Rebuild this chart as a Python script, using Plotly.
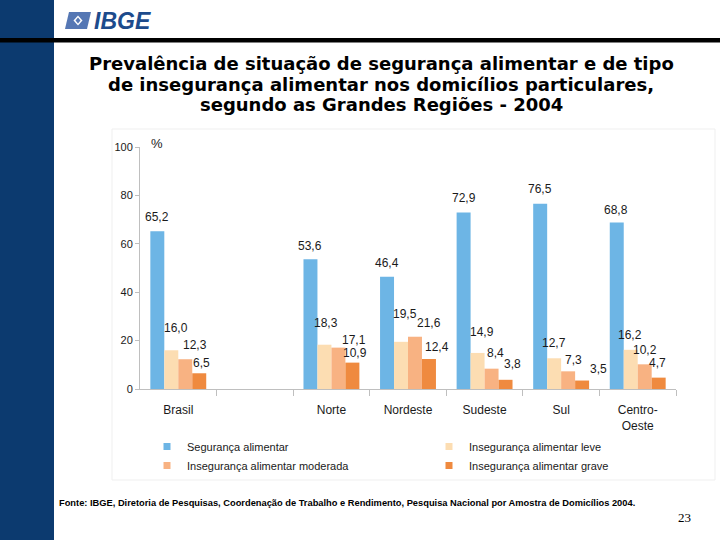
import plotly.graph_objects as go

# ---------------- data ----------------
categories = ["Brasil", "", "Norte", "Nordeste", "Sudeste", "Sul", "Centro-<br>Oeste"]
seguranca = [65.2, None, 53.6, 46.4, 72.9, 76.5, 68.8]
inseg_leve = [16.0, None, 18.3, 19.5, 14.9, 12.7, 16.2]
inseg_moderada = [12.3, None, 17.1, 21.6, 8.4, 7.3, 10.2]
inseg_grave = [6.5, None, 10.9, 12.4, 3.8, 3.5, 4.7]
series_names = ["Segurança alimentar", "Insegurança alimentar leve",
                "Insegurança alimentar moderada", "Insegurança alimentar grave"]
y_ticks = [0, 20, 40, 60, 80, 100]
title_lines = ["Prevalência de situação de segurança alimentar e de tipo",
               "de insegurança alimentar nos domicílios particulares,",
               "segundo as Grandes Regiões - 2004"]

# ---------------- style ----------------
colors = ["#6DB5E5", "#FCDDB2", "#F8B282", "#EF8A3F"]
FONT = "Liberation Sans, Arial, sans-serif"
TITLE_FONT = "DejaVu Sans, Verdana, sans-serif"
W, H = 720, 540
L, R, T, B = 140, 44, 147, 151
PW, PH = W - L - R, H - T - B
BARGAP = 0.27

# label nudges (px) per series per category: (dx, gap above bar top)
label_dx = [[0, 0, 0, 0, 0, 0, -1],
            [5, 0, 2, 4, 4, 0, -1],
            [10, 0, 16, 14, 4, 5, 0],
            [2, 0, 3, 8, 7, 16, -1]]
label_dy = [[14, 0, 13, 14, 15, 15, 13],
            [22, 0, 22, 28, 21, 15, 15],
            [14, 0, 8, 14, 16, 11, 14],
            [10, 0, 10, 12, 16, 12, 15]]


def px(x):
    return (x - L) / PW


def py(y):
    return (H - B - y) / PH


def path(points):
    return "M " + " L ".join(f"{px(a):.5f},{py(b):.5f}" for a, b in points) + " Z"


series = [seguranca, inseg_leve, inseg_moderada, inseg_grave]
xs = list(range(len(categories)))

fig = go.Figure()
for k, (name, vals) in enumerate(zip(series_names, series)):
    fig.add_trace(go.Bar(x=xs, y=vals, name=name, marker=dict(color=colors[k], line_width=0),
                         showlegend=False, hoverinfo="skip"))

# legend entries (small square swatches), split in two columns
for k, name in enumerate(series_names):
    fig.add_trace(go.Scatter(x=[None], y=[None], mode="markers", name=name,
                             marker=dict(symbol="square", size=7, color=colors[k]),
                             legend="legend" if k % 2 == 0 else "legend2"))

annotations = []
bar_w = (1 - BARGAP) / 4
for k, vals in enumerate(series):
    for i, v in enumerate(vals):
        if v is None:
            continue
        annotations.append(dict(
            x=i + (k - 1.5) * bar_w, y=v, xref="x", yref="y",
            text=f"{v:.1f}".replace(".", ","), showarrow=False,
            xanchor="center", yanchor="middle",
            xshift=label_dx[k][i], yshift=label_dy[k][i],
            font=dict(family=FONT, size=12, color="#1a1a1a")))

# title lines
for j, line in enumerate(title_lines):
    annotations.append(dict(
        x=px(381), y=py(63 + 21 * j), xref="paper", yref="paper", showarrow=False,
        text=line, xanchor="center", yanchor="middle",
        font=dict(family=TITLE_FONT, size=18, color="black", weight="bold")))

annotations += [
    dict(x=px(157), y=py(143), xref="paper", yref="paper", showarrow=False, text="%",
         xanchor="center", yanchor="middle", font=dict(family=FONT, size=13, color="#1a1a1a")),
    dict(x=px(57), y=py(503), xref="paper", yref="paper", showarrow=False,
         text="Fonte: IBGE, Diretoria de Pesquisas, Coordenação de Trabalho e Rendimento, "
              "Pesquisa Nacional por Amostra de Domicílios 2004.",
         xanchor="left", yanchor="middle",
         font=dict(family=FONT, size=9.3, color="black", weight="bold")),
    dict(x=px(684), y=py(517), xref="paper", yref="paper", showarrow=False, text="23",
         xanchor="center", yanchor="middle",
         font=dict(family="Liberation Serif, serif", size=13, color="black")),
    dict(x=px(92), y=py(21), xref="paper", yref="paper", showarrow=False, text="IBGE",
         xanchor="left", yanchor="middle",
         font=dict(family=FONT, size=23, color="#1D4B8C", weight="bold", style="italic")),
]

shapes = [
    # left navy band
    dict(type="rect", xref="paper", yref="paper", x0=px(0), x1=px(54), y0=py(540), y1=py(0),
         fillcolor="#0C3A6F", line_width=0, layer="below"),
    # header rule
    dict(type="rect", xref="paper", yref="paper", x0=px(0), x1=px(720), y0=py(42.5), y1=py(38),
         fillcolor="black", line_width=0),
    # faint chart frame
    dict(type="rect", xref="paper", yref="paper", x0=px(112), x1=px(715), y0=py(480), y1=py(129),
         line=dict(color="#EFEFEF", width=1), layer="below"),
    # logo icon
    dict(type="path", xref="paper", yref="paper",
         path=path([(69, 12), (91, 12), (87, 29), (65, 29)]),
         fillcolor="#5577B4", line_width=0),
    dict(type="path", xref="paper", yref="paper",
         path=path([(78, 15.5), (82.5, 20.5), (78, 25.5), (73.5, 20.5)]),
         fillcolor="white", line_width=0),
    dict(type="path", xref="paper", yref="paper",
         path=path([(78, 17.5), (80.5, 20.5), (78, 23.5), (75.5, 20.5)]),
         fillcolor="#5577B4", line_width=0),
]

fig.update_layout(
    width=W, height=H,
    margin=dict(l=L, r=R, t=T, b=B, autoexpand=False),
    paper_bgcolor="white", plot_bgcolor="white",
    barmode="group", bargap=BARGAP, bargroupgap=0,
    font=dict(family=FONT, color="#1a1a1a"),
    annotations=annotations, shapes=shapes,
    legend=dict(x=px(147), y=py(432), xanchor="left", yanchor="top",
                orientation="v", font=dict(family=FONT, size=11, color="#1a1a1a"),
                itemwidth=30, bgcolor="rgba(0,0,0,0)", tracegroupgap=0),
    legend2=dict(x=px(429), y=py(432), xanchor="left", yanchor="top",
                 orientation="v", font=dict(family=FONT, size=11, color="#1a1a1a"),
                 itemwidth=30, bgcolor="rgba(0,0,0,0)", tracegroupgap=0),
    xaxis=dict(range=[-0.5, len(categories) - 0.5], tickmode="array", tickvals=xs,
               ticktext=categories, ticks="", showline=True, linecolor="#BFBFBF",
               linewidth=1, showgrid=False, zeroline=False, fixedrange=True,
               tickfont=dict(family=FONT, size=12, color="#1a1a1a"),
               ticklabelstandoff=10,
               minor=dict(tickmode="array",
                          tickvals=[i + 0.5 for i in xs],
                          ticks="outside", ticklen=6, tickcolor="#BFBFBF", showgrid=False)),
    yaxis=dict(range=[0, 100], tickmode="array", tickvals=y_ticks, ticks="outside",
               ticklen=4, tickcolor="#BFBFBF", showline=True, linecolor="#BFBFBF",
               linewidth=1, showgrid=False, zeroline=False, fixedrange=True,
               tickfont=dict(family=FONT, size=11, color="#1a1a1a")),
)

fig.write_html("out.html", config={"displayModeBar": False},
               post_script="document.body.style.margin='0';")
